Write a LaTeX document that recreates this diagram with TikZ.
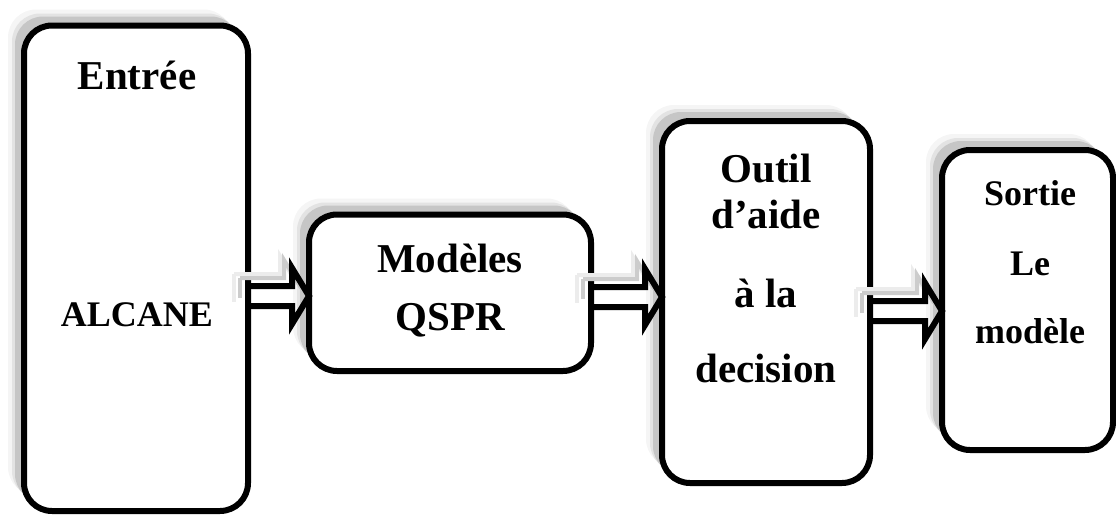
\documentclass[tikz,border=0pt]{standalone}
\usepackage{fontspec}
\setmainfont{Liberation Serif}
\usetikzlibrary{shadows,calc}
\begin{document}
\begin{tikzpicture}[x=1pt,y=-1pt,
  box/.style={draw=black, line width=6pt, fill=white, rounded corners=28pt,
    inner sep=0pt, outer sep=0pt,
    general shadow={shadow xshift=-16pt, shadow yshift=16pt, fill=gray!8},
    general shadow={shadow xshift=-12pt, shadow yshift=12pt, fill=gray!22},
    general shadow={shadow xshift=-9pt, shadow yshift=9pt, fill=gray!45}},
  arr/.style={draw=black, line width=6pt, line join=miter, miter limit=10},
  arrshadow/.style={draw=gray!40, line width=4pt, line join=miter},
  arrshadowl/.style={draw=gray!15, line width=4pt, line join=miter},
  lbl/.style={anchor=base, inner sep=0pt, font=\bfseries\fontsize{41}{41}\selectfont},
  lbls/.style={anchor=base, inner sep=0pt, font=\bfseries\fontsize{36}{36}\selectfont},
]
\useasboundingbox (0,0) rectangle (1116,514);

% boxes
\node[box, minimum width=224pt, minimum height=485.5pt] (b1) at (136,268.25) {};
\node[box, minimum width=282pt, minimum height=156.5pt] (b2) at (450,292.75) {};
\node[box, minimum width=208pt, minimum height=362pt] (b3) at (766,302) {};
\node[box, minimum width=171pt, minimum height=300pt] (b4) at (1027.5,300) {};

% arrow levels
\coordinate (y1) at (0,296);
\coordinate (y2) at (0,297);
\coordinate (y3) at (0,311);

\newcommand{\dblarrow}[4]{% from, to, level, name
  \coordinate (#4s) at (#1.east |- #3);
  \coordinate (#4e) at (#2.west |- #3);
  \draw[arrshadowl] ($(#4s)+(-14,-22)$) -- ($(#4e)+(-29,-22)$) -- ($(#4e)+(-29,-40)$) -- ($(#4e)+(-12,-12)$);
  \draw[arrshadowl] ($(#4s)+(-14,-22)$) -- ($(#4s)+(-14,6)$);
  \draw[arrshadow] ($(#4s)+(-8,-18)$) -- ($(#4e)+(-25,-18)$) -- ($(#4e)+(-25,-36)$) -- ($(#4e)+(-8,-8)$);
  \draw[arrshadow] ($(#4s)+(-8,-18)$) -- ($(#4s)+(-8,2)$);
  \draw[arr] ($(#4s)+(0,-10)$) -- ($(#4e)+(-17,-10)$) -- ($(#4e)+(-17,-28)$)
    -- (#4e) -- ($(#4e)+(-17,28)$) -- ($(#4e)+(-17,10)$) -- ($(#4s)+(0,10)$);
}
\dblarrow{b1}{b2}{y1}{a1}
\dblarrow{b2}{b3}{y2}{a2}
\dblarrow{b3}{b4}{y3}{a3}

% texts
\node[lbl] (t1) at (137,89) {Entrée};
\node[lbls] (t2) at (137,326) {ALCANE};
\node[lbl] (t3) at (450,272) {Modèles};
\node[lbl] (t4) at (450,330) {QSPR};
\node[lbl] (t5) at (766,182) {Outil};
\node[lbl] (t6) at (766,228) {d’aide};
\node[lbl] (t7) at (766,307) {à la};
\node[lbl] (t8) at (766,382) {decision};
\node[lbls] (t9) at (1030,205) {Sortie};
\node[lbls] (t10) at (1030,275) {Le};
\node[lbls] (t11) at (1030,343) {modèle};
\end{tikzpicture}
\end{document}
